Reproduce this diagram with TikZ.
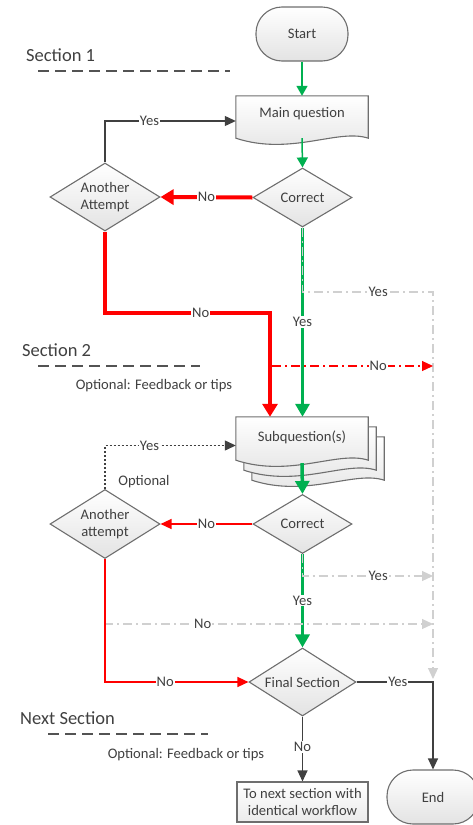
\documentclass[tikz,border=0pt]{standalone}
\usepackage{fontspec}
\setmainfont{Carlito}
\usetikzlibrary{shapes.geometric,arrows.meta,calc}
\definecolor{ink}{HTML}{404040}
\definecolor{edge}{HTML}{6E6E6E}
\definecolor{okgreen}{HTML}{00B050}
\definecolor{nored}{HTML}{FF0000}
\definecolor{faint}{HTML}{D0D0D0}
\newcommand\nodefont{\fontsize{14.6}{16.5}\selectfont}
\newcommand\headfont{\fontsize{18.5}{21}\selectfont}
% document shape with a wavy lower edge, drawn around a named node
\newcommand\wavedoc[3]{%
  \path[docfill]
    ($(#1.north west)+(#2,#3)$) -- ($(#1.north east)+(#2,#3)$)
    -- ($(#1.south east)+(#2,#3)$)
    .. controls ($(#1.south east)+(#2-30,#3-10)$) and ($(#1.south west)+(#2+55,#3+18)$)
    .. ($(#1.south west)+(#2,#3)$) -- cycle;}
\begin{document}
\begin{tikzpicture}[x=1pt,y=-1pt,
  box/.style={draw=edge, line width=1.1pt, top color=white, bottom color=black!11,
    text=ink, font=\nodefont, align=center, inner sep=0pt},
  term/.style={box, rectangle, rounded corners=26pt, minimum width=92pt, minimum height=54pt},
  choice/.style={box, diamond, aspect=1.6},
  docanchor/.style={rectangle, minimum width=132pt, minimum height=42pt,
    text=ink, font=\nodefont, inner sep=0pt},
  docfill/.style={draw=edge, line width=1.1pt, top color=white, bottom color=black!11},
  lbl/.style={fill=white, text=ink, font=\nodefont, inner sep=1pt},
  head/.style={text=ink, font=\headfont, anchor=west, inner sep=0pt},
  note/.style={text=ink, font=\nodefont, inner sep=0pt},
  sepline/.style={draw=ink!90, line width=1.4pt, dash pattern=on 11pt off 6pt},
  gthin/.style={draw=okgreen, line width=1.5pt, -{Triangle[width=11pt,length=10pt]}},
  gthick/.style={draw=okgreen, line width=3.5pt, -{Triangle[width=14pt,length=13pt]}},
  rthick/.style={draw=nored, line width=4pt, line join=miter, -{Triangle[width=15pt,length=13pt]}},
  rthin/.style={draw=nored, line width=1.3pt, -{Triangle[width=10pt,length=11pt]}},
  kthin/.style={draw=ink, line width=1.2pt, -{Triangle[width=10pt,length=11pt]}},
  kdot/.style={kthin, dash pattern=on 2pt off 2pt},
  gdash/.style={draw=faint, line width=1.2pt, dash pattern=on 9pt off 4pt on 2pt off 4pt,
    -{Triangle[width=10pt,length=11pt,fill=faint]}},
  rdash/.style={draw=nored, line width=1.2pt, dash pattern=on 9pt off 4pt on 2pt off 4pt,
    -{Triangle[width=10pt,length=11pt]}},
]
\clip (0,0) rectangle (473,825);
\useasboundingbox (0,0) rectangle (473,825);

% section headings and separators
\node[head] (s1) at (26,55) {Section 1};
\draw[sepline] (38,71) -- (230,71);
\node[head] (s2) at (22,350) {Section 2};
\draw[sepline] (38,366) -- (200,366);
\node[note] (tip1) at (154,386) {Optional: Feedback or tips};
\node[head] (s3) at (20,718) {Next Section};
\draw[sepline] (48,734) -- (208,734);
\node[note] (tip2) at (186,755) {Optional: Feedback or tips};

% shapes
\node[term] (start) at (302,34) {Start};
\node[docanchor] (mq) at (302,117) {};
\wavedoc{mq}{0}{0}
\node[note] at (302,114) {Main question};
\node[choice, minimum width=99pt, minimum height=59pt] (c1) at (302.5,197.5) {Correct};
\node[choice, aspect=1.5, minimum width=110pt, minimum height=68pt] (a1) at (105,197) {Another\\Attempt};

\node[docanchor, minimum height=43pt] (sq) at (302,438.5) {};
\wavedoc{sq}{16}{20}
\wavedoc{sq}{8}{10}
\wavedoc{sq}{0}{0}
\node[note] at (302,437) {Subquestion(s)};
\node[choice, minimum width=99pt, minimum height=59pt] (c2) at (302.5,524) {Correct};
\node[choice, aspect=1.5, minimum width=110pt, minimum height=69pt] (a2) at (105,524) {Another\\attempt};
\node[note] (opt) at (144,482) {Optional};

\node[choice, minimum width=107pt, minimum height=68pt] (f) at (302.5,682) {Final Section};
\node[box, rectangle, top color=white, bottom color=black!8,
  minimum width=131pt, minimum height=40pt] (nx) at (302.5,802) {To next section with\\identical workflow};
\node[term] (end) at (433,797) {End};

% helper points
\coordinate (rail) at (433,292);
\coordinate (railend) at (433,679);
\coordinate (rj) at (270,313);
\coordinate (rd) at (272,366);
\coordinate (gy) at (433,576);
\coordinate (gn) at (104,624);

% section 1 flow
\draw[gthin] (start) -- (mq.north);
\draw[gthin] (mq.south) -- (c1.north);
\draw[rthick] (c1.west) -- node[lbl]{No} (a1.east);
\draw[kthin] (a1.north) |- node[lbl,pos=0.67]{Yes} ($(mq.west)+(0,4)$);
\draw[rthick] (a1.south) |- node[lbl,pos=0.79]{No} (rj) -- (rj |- sq.north);
\draw[gthick] (c1.south) -- node[lbl]{Yes} (c1.south |- sq.north);
\draw[gdash] (c1.south) |- node[lbl,pos=0.79]{Yes} (rail) -- (railend);
\draw[rdash] (rd) -- node[lbl,pos=0.66]{No} (rd -| rail);

% section 2 flow
\draw[gthick] ($(sq.south)+(0,3)$) -- (c2.north);
\draw[rthin] (c2.west) -- node[lbl]{No} (a2.east);
\draw[kdot] (a2.north) |- node[lbl,pos=0.67]{Yes} ($(sq.west)+(0,7)$);
\draw[gthick] (c2.south) -- node[lbl]{Yes} (f.north);
\draw[gdash] (c2.south) |- node[lbl,pos=0.79]{Yes} (gy);
\draw[gdash] (gn) -- node[lbl,pos=0.3]{No} (gn -| rail);
\draw[rthin] (a2.south) |- node[lbl,pos=0.71]{No} (f.west);

% final decision
\draw[kthin] (f.east) -| node[lbl,pos=0.27]{Yes} (end.north);
\draw[kthin] (f.south) -- node[lbl,pos=0.47]{No} (nx.north);
\end{tikzpicture}
\end{document}
